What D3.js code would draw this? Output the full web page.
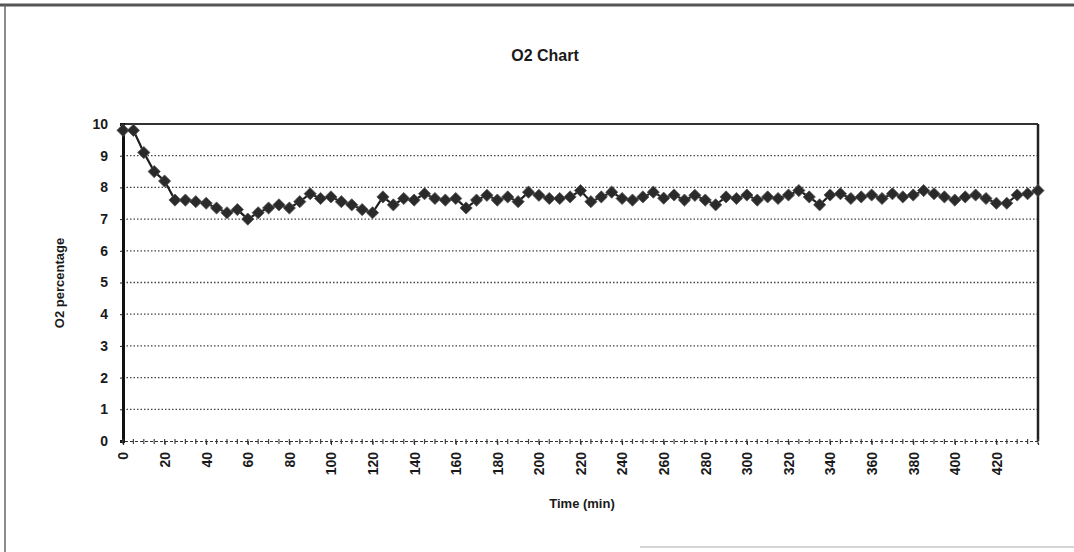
<!DOCTYPE html>
<html>
<head>
<meta charset="utf-8">
<script src="https://cdn.jsdelivr.net/npm/d3@7"></script>
<style>
  html, body { margin: 0; padding: 0; background: #fff; }
  svg { display: block; }
  text { font-family: "Liberation Sans", Arial, sans-serif; font-weight: bold; fill: #1a1a1a; }
</style>
</head>
<body>
<script>
// ---- data ----
const times = [0,5,10,15,20,25,30,35,40,45,50,55,60,65,70,75,80,85,90,95,
  100,105,110,115,120,125,130,135,140,145,150,155,160,165,170,175,180,185,190,195,
  200,205,210,215,220,225,230,235,240,245,250,255,260,265,270,275,280,285,290,295,
  300,305,310,315,320,325,330,335,340,345,350,355,360,365,370,375,380,385,390,395,
  400,405,410,415,420,425,430,435,440];
const o2 = [9.8,9.8,9.1,8.5,8.2,7.6,7.6,7.55,7.5,7.35,7.2,7.3,7.0,7.2,7.35,7.45,7.35,7.55,7.8,7.65,
  7.7,7.55,7.45,7.3,7.2,7.7,7.45,7.65,7.6,7.8,7.65,7.6,7.65,7.35,7.6,7.75,7.6,7.7,7.55,7.85,
  7.75,7.65,7.65,7.7,7.9,7.55,7.7,7.85,7.65,7.6,7.7,7.85,7.66,7.76,7.6,7.75,7.6,7.45,7.7,7.65,
  7.76,7.6,7.7,7.65,7.76,7.9,7.7,7.45,7.76,7.8,7.65,7.7,7.76,7.65,7.8,7.7,7.76,7.9,7.8,7.7,
  7.6,7.7,7.76,7.65,7.5,7.5,7.76,7.8,7.9];
const xTickLabels = [0,20,40,60,80,100,120,140,160,180,200,220,240,260,280,300,320,340,360,380,400,420];
const yTickLabels = [0,1,2,3,4,5,6,7,8,9,10];
const chartTitle = "O2 Chart";
const xTitle = "Time (min)";
const yTitle = "O2 percentage";

// ---- layout ----
const W = 1074, H = 552;
const L = 123, R = 1038, T = 124, B = 441;

const svg = d3.select("body").append("svg").attr("width", W).attr("height", H);

// outer frame (scanned page edges)
svg.append("line").attr("x1", 0).attr("x2", W).attr("y1", 5).attr("y2", 5)
  .attr("stroke", "#555").attr("stroke-width", 3);
svg.append("line").attr("x1", 5).attr("x2", 5).attr("y1", 5).attr("y2", H)
  .attr("stroke", "#666").attr("stroke-width", 1.5);
svg.append("line").attr("x1", 640).attr("x2", W).attr("y1", 547).attr("y2", 547)
  .attr("stroke", "#aaa").attr("stroke-width", 1);

const x = d3.scaleLinear().domain([0, 440]).range([L, R]);
const y = d3.scaleLinear().domain([0, 10]).range([B, T]);

// gridlines (dotted)
svg.append("g").selectAll("line").data(yTickLabels.filter(d => d > 0 && d < 10)).join("line")
  .attr("x1", L).attr("x2", R)
  .attr("y1", d => y(d)).attr("y2", d => y(d))
  .attr("stroke", "#444").attr("stroke-width", 1.3).attr("stroke-dasharray", "1.5,2");

// plot frame: top and right
svg.append("line").attr("x1", L).attr("x2", R).attr("y1", T).attr("y2", T)
  .attr("stroke", "#333").attr("stroke-width", 1.8);
svg.append("line").attr("x1", R).attr("x2", R).attr("y1", T).attr("y2", B)
  .attr("stroke", "#222").attr("stroke-width", 2.5);

// y axis
const yAxis = d3.axisLeft(y).tickValues(yTickLabels).tickSize(3).tickPadding(12)
  .tickFormat(d3.format("d"));
const gy = svg.append("g").attr("transform", `translate(${L},0)`).call(yAxis);
gy.select(".domain").attr("stroke", "#111").attr("stroke-width", 3);
gy.selectAll(".tick line").attr("stroke", "#222");
gy.selectAll(".tick text").style("font-size", "14px").style("font-family", "'Liberation Sans', Arial, sans-serif")
  .style("font-weight", "bold").attr("fill", "#1a1a1a");

// x axis: minor ticks at each sample
const gxMinor = svg.append("g").attr("transform", `translate(0,${B})`);
gxMinor.selectAll("line").data(times).join("line")
  .attr("x1", d => x(d)).attr("x2", d => x(d)).attr("y1", -2).attr("y2", 3)
  .attr("stroke", "#444").attr("stroke-width", 1.2);

const xAxis = d3.axisBottom(x).tickValues(xTickLabels).tickSize(4).tickFormat(d3.format("d"));
const gx = svg.append("g").attr("transform", `translate(0,${B})`).call(xAxis);
gx.select(".domain").attr("stroke", "#333").attr("stroke-width", 1.2).attr("stroke-dasharray", "3,2");
gx.selectAll(".tick line").attr("stroke", "#222");
gx.selectAll(".tick text")
  .style("font-size", "14px").style("font-family", "'Liberation Sans', Arial, sans-serif")
  .style("font-weight", "bold").attr("fill", "#1a1a1a")
  .attr("transform", "rotate(-90)")
  .attr("text-anchor", "end")
  .attr("x", -11).attr("y", 0).attr("dy", "0.35em");

// line
const pts = times.map((t, i) => [t, o2[i]]);
svg.append("path").datum(pts)
  .attr("fill", "none").attr("stroke", "#1e1e1e").attr("stroke-width", 2.2)
  .attr("d", d3.line().x(d => x(d[0])).y(d => y(d[1])));

// diamond markers
svg.append("g").selectAll("path").data(pts).join("path")
  .attr("transform", d => `translate(${x(d[0])},${y(d[1])})`)
  .attr("d", d3.symbol().type(d3.symbolDiamond2).size(95))
  .attr("fill", "#2a2a2a").attr("stroke", "#555").attr("stroke-width", 0.8);

// titles
svg.append("text").attr("x", 545).attr("y", 61).attr("text-anchor", "middle")
  .style("font-size", "16px").text(chartTitle);
svg.append("text").attr("x", 582).attr("y", 508).attr("text-anchor", "middle")
  .style("font-size", "13px").text(xTitle);
svg.append("text").attr("transform", `translate(64,283) rotate(-90)`).attr("text-anchor", "middle")
  .style("font-size", "13px").text(yTitle);
</script>
</body>
</html>
